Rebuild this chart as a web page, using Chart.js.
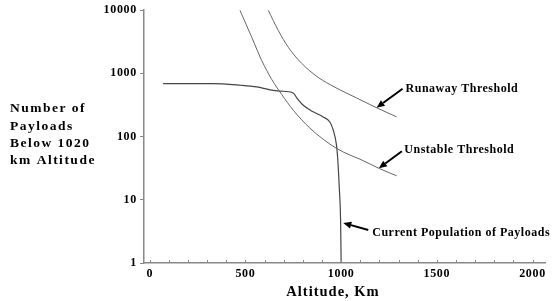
<!DOCTYPE html>
<html>
<head>
<meta charset="utf-8">
<script src="https://cdn.jsdelivr.net/npm/chart.js@4/dist/chart.umd.min.js"></script>
<style>
  html, body { margin: 0; padding: 0; background: #fff; }
  #wrap { width: 552px; height: 301px; position: relative; }
</style>
</head>
<body>
<div id="wrap"><canvas id="chart"></canvas></div>
<script>
// altitude (km) and payload counts
const currentAlt = [70, 330, 473, 560, 628, 682, 750, 768, 802, 854, 906, 941, 959, 976, 982, 990, 997, 1000];
const currentCount = [690, 690, 650, 610, 550, 525, 490, 410, 313, 247, 205, 170, 126, 72, 45, 16, 4.8, 1];

const unstableAlt = [471, 533, 585, 637, 689, 750, 837, 906, 976, 1046, 1098, 1202, 1290];
const unstableCount = [10000, 3730, 1600, 805, 467, 261, 136, 91, 65, 51, 44, 31, 24];

const runawayAlt = [619, 672, 724, 794, 880, 968, 1020, 1081, 1185, 1290];
const runawayCount = [10000, 4750, 2590, 1440, 865, 603, 502, 408, 286, 205];

const xTicks = [0, 500, 1000, 1500, 2000];
const yTicks = [1, 10, 100, 1000, 10000];

const yTitleLines = ['Number of', 'Payloads', 'Below 1020', 'km Altitude'];
const xTitle = 'Altitude, Km';

const noteText = ['Runaway Threshold', 'Unstable Threshold', 'Current Population of Payloads'];
const noteAlt = [1185, 1197, 1011];
const noteCount = [286, 31.5, 4.3];

const SERIF = "'Liberation Serif', 'Times New Roman', serif";
// arrow tail offset from tip, and text offset from tail (px)
const noteLayout = [
  { dx: 26, dy: -19, tx: 3, ty: 0.5 },
  { dx: 23, dy: -17, tx: 2.5, ty: -1 },
  { dx: 25, dy: 7, tx: 4, ty: 2.5 },
];

function toPoints(xs, ys) {
  return xs.map((x, i) => ({ x: x, y: ys[i] }));
}

const decor = {
  id: 'decor',
  beforeUpdate(chart) {
    chart.ctx.letterSpacing = '0.7px';
  },
  beforeDraw(chart) {
    chart.ctx.letterSpacing = '0.7px';
  },
  afterDraw(chart) {
    const ctx = chart.ctx;
    const xs = chart.scales.x;
    const ys = chart.scales.y;
    const area = chart.chartArea;

    ctx.save();
    // small inward ticks every 100 km
    ctx.strokeStyle = '#888';
    ctx.lineWidth = 1;
    for (let v = 0; v <= 2000; v += 100) {
      const px = Math.round(xs.getPixelForValue(v)) + 0.5;
      ctx.beginPath();
      ctx.moveTo(px, area.bottom);
      ctx.lineTo(px, area.bottom - 3);
      ctx.stroke();
    }

    ctx.fillStyle = '#000';
    ctx.textBaseline = 'middle';

    // y axis title, left aligned
    ctx.font = 'bold 13.5px ' + SERIF;
    ctx.letterSpacing = '1.5px';
    ctx.textAlign = 'left';
    yTitleLines.forEach((line, i) => {
      ctx.fillText(line, 10, 109 + i * 17.3);
    });

    // x axis title
    ctx.font = 'bold 14.5px ' + SERIF;
    ctx.letterSpacing = '1px';
    ctx.textAlign = 'center';
    ctx.fillText(xTitle, 333, 292);

    // annotations with arrows
    ctx.font = 'bold 12px ' + SERIF;
    ctx.letterSpacing = '0.5px';
    ctx.textAlign = 'left';
    noteText.forEach((text, i) => {
      const lay = noteLayout[i];
      const tipX = xs.getPixelForValue(noteAlt[i]);
      const tipY = ys.getPixelForValue(noteCount[i]);
      const tailX = tipX + lay.dx;
      const tailY = tipY + lay.dy;
      const ang = Math.atan2(tipY - tailY, tipX - tailX);
      const headLen = 8;
      const baseX = tipX - headLen * Math.cos(ang);
      const baseY = tipY - headLen * Math.sin(ang);

      ctx.strokeStyle = '#000';
      ctx.lineWidth = 2;
      ctx.beginPath();
      ctx.moveTo(tailX, tailY);
      ctx.lineTo(baseX, baseY);
      ctx.stroke();

      ctx.beginPath();
      ctx.moveTo(tipX, tipY);
      ctx.lineTo(baseX + 3.5 * Math.sin(ang), baseY - 3.5 * Math.cos(ang));
      ctx.lineTo(baseX - 3.5 * Math.sin(ang), baseY + 3.5 * Math.cos(ang));
      ctx.closePath();
      ctx.fill();

      ctx.fillText(text, tailX + lay.tx, tailY + lay.ty);
    });
    ctx.restore();
  },
};

new Chart(document.getElementById('chart'), {
  type: 'line',
  data: {
    datasets: [
      {
        label: 'Runaway Threshold',
        data: toPoints(runawayAlt, runawayCount),
        borderColor: '#666',
        borderWidth: 1,
        pointRadius: 0,
        cubicInterpolationMode: 'monotone',
      },
      {
        label: 'Unstable Threshold',
        data: toPoints(unstableAlt, unstableCount),
        borderColor: '#666',
        borderWidth: 1,
        pointRadius: 0,
        cubicInterpolationMode: 'monotone',
      },
      {
        label: 'Current Population of Payloads',
        data: toPoints(currentAlt, currentCount),
        borderColor: '#444',
        borderWidth: 1.2,
        pointRadius: 0,
        cubicInterpolationMode: 'monotone',
      },
    ],
  },
  options: {
    responsive: true,
    maintainAspectRatio: false,
    animation: false,
    layout: { padding: { top: 9, right: 7, left: 0, bottom: 0 } },
    plugins: {
      legend: { display: false },
      tooltip: { enabled: false },
    },
    scales: {
      x: {
        type: 'linear',
        min: -30,
        max: 2065,
        afterBuildTicks: (scale) => {
          scale.ticks = xTicks.map((v) => ({ value: v }));
        },
        afterFit: (scale) => {
          scale.height = 38;
        },
        grid: { display: true, drawOnChartArea: false, drawTicks: false },
        border: { color: '#888', width: 1.5 },
        ticks: {
          padding: 4,
          color: '#000',
          maxRotation: 0,
          font: { family: SERIF, size: 12, weight: 'bold' },
          callback: (v) => String(v),
        },
      },
      y: {
        type: 'logarithmic',
        min: 1,
        max: 10000,
        afterBuildTicks: (scale) => {
          scale.ticks = yTicks.map((v) => ({ value: v }));
        },
        afterFit: (scale) => {
          scale.width = 144;
        },
        grid: { drawOnChartArea: false, tickLength: 4, color: '#888' },
        border: { color: '#888', width: 1.5 },
        ticks: {
          padding: 3,
          color: '#000',
          font: { family: SERIF, size: 12, weight: 'bold' },
          callback: (v) => String(v),
        },
      },
    },
  },
  plugins: [decor],
});
</script>
</body>
</html>
